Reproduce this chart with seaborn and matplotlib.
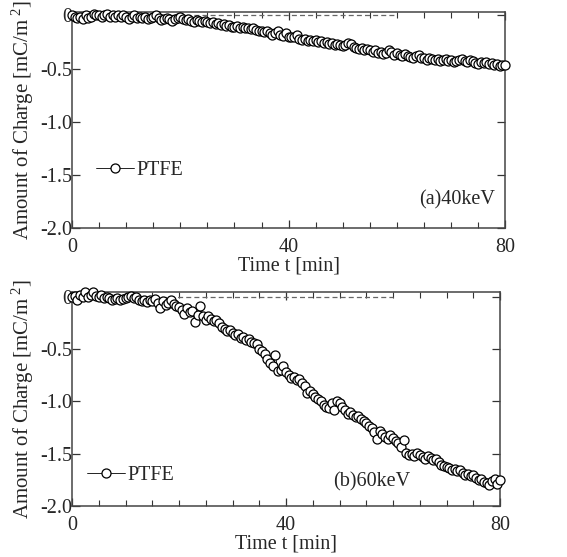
import numpy as np
import pandas as pd
import matplotlib
matplotlib.use("Agg")
import matplotlib.pyplot as plt
import seaborn as sns
from matplotlib.ticker import MultipleLocator, FuncFormatter

# measurement times [min], one point every 0.5 min
time_min = [
    0.0, 0.5, 1.0, 1.5, 2.0, 2.5, 3.0, 3.5, 4.0, 4.5,
    5.0, 5.5, 6.0, 6.5, 7.0, 7.5, 8.0, 8.5, 9.0, 9.5,
    10.0, 10.5, 11.0, 11.5, 12.0, 12.5, 13.0, 13.5, 14.0, 14.5,
    15.0, 15.5, 16.0, 16.5, 17.0, 17.5, 18.0, 18.5, 19.0, 19.5,
    20.0, 20.5, 21.0, 21.5, 22.0, 22.5, 23.0, 23.5, 24.0, 24.5,
    25.0, 25.5, 26.0, 26.5, 27.0, 27.5, 28.0, 28.5, 29.0, 29.5,
    30.0, 30.5, 31.0, 31.5, 32.0, 32.5, 33.0, 33.5, 34.0, 34.5,
    35.0, 35.5, 36.0, 36.5, 37.0, 37.5, 38.0, 38.5, 39.0, 39.5,
    40.0, 40.5, 41.0, 41.5, 42.0, 42.5, 43.0, 43.5, 44.0, 44.5,
    45.0, 45.5, 46.0, 46.5, 47.0, 47.5, 48.0, 48.5, 49.0, 49.5,
    50.0, 50.5, 51.0, 51.5, 52.0, 52.5, 53.0, 53.5, 54.0, 54.5,
    55.0, 55.5, 56.0, 56.5, 57.0, 57.5, 58.0, 58.5, 59.0, 59.5,
    60.0, 60.5, 61.0, 61.5, 62.0, 62.5, 63.0, 63.5, 64.0, 64.5,
    65.0, 65.5, 66.0, 66.5, 67.0, 67.5, 68.0, 68.5, 69.0, 69.5,
    70.0, 70.5, 71.0, 71.5, 72.0, 72.5, 73.0, 73.5, 74.0, 74.5,
    75.0, 75.5, 76.0, 76.5, 77.0, 77.5, 78.0, 78.5, 79.0, 79.5,
    80.0,
]

# (a) 40 keV, PTFE charge [mC/m^2]
charge_40kev = [
    0.00, -0.01, -0.02, -0.01, -0.03, 0.00, -0.02, -0.01, 0.01, 0.00,
    0.00, -0.01, 0.00, 0.01, -0.01, 0.00, -0.01, 0.00, -0.01, 0.00,
    -0.01, -0.03, -0.01, 0.00, -0.02, -0.01, -0.02, -0.01, -0.03, -0.02,
    -0.01, 0.00, -0.02, -0.04, -0.03, -0.02, -0.03, -0.05, -0.03, -0.02,
    -0.01, -0.03, -0.04, -0.03, -0.05, -0.06, -0.04, -0.05, -0.06, -0.05,
    -0.06, -0.07, -0.06, -0.08, -0.07, -0.09, -0.08, -0.10, -0.09, -0.11,
    -0.11, -0.10, -0.12, -0.11, -0.12, -0.12, -0.13, -0.12, -0.14, -0.15,
    -0.15, -0.16, -0.15, -0.17, -0.18, -0.17, -0.15, -0.18, -0.19, -0.17,
    -0.20, -0.20, -0.20, -0.18, -0.22, -0.23, -0.22, -0.24, -0.23, -0.24,
    -0.23, -0.25, -0.24, -0.26, -0.25, -0.27, -0.26, -0.28, -0.27, -0.28,
    -0.29, -0.28, -0.26, -0.27, -0.30, -0.31, -0.32, -0.31, -0.33, -0.32,
    -0.33, -0.34, -0.33, -0.35, -0.34, -0.36, -0.35, -0.33, -0.34, -0.37,
    -0.35, -0.37, -0.38, -0.36, -0.38, -0.39, -0.40, -0.38, -0.37, -0.40,
    -0.40, -0.42, -0.40, -0.41, -0.42, -0.41, -0.43, -0.42, -0.41, -0.43,
    -0.42, -0.44, -0.43, -0.42, -0.41, -0.43, -0.44, -0.42, -0.43, -0.45,
    -0.46, -0.44, -0.45, -0.44, -0.46, -0.45, -0.47, -0.46, -0.48, -0.47,
    -0.47,
]

# (b) 60 keV, PTFE charge [mC/m^2]
charge_60kev = [
    0.00, 0.01, -0.03, 0.02, 0.00, 0.05, 0.00, 0.02, 0.05, 0.01,
    0.00, 0.02, -0.01, 0.00, -0.01, -0.03, -0.02, -0.01, -0.03, -0.02,
    -0.01, 0.00, 0.01, -0.01, 0.00, -0.03, -0.04, -0.03, -0.05, -0.03,
    -0.04, -0.02, -0.06, -0.11, -0.04, -0.08, -0.06, -0.03, -0.07, -0.09,
    -0.10, -0.13, -0.16, -0.11, -0.15, -0.14, -0.24, -0.17, -0.09, -0.18,
    -0.22, -0.18, -0.21, -0.23, -0.22, -0.25, -0.29, -0.31, -0.33, -0.32,
    -0.35, -0.37, -0.36, -0.39, -0.38, -0.41, -0.40, -0.43, -0.44, -0.45,
    -0.50, -0.52, -0.55, -0.59, -0.63, -0.66, -0.56, -0.71, -0.70, -0.66,
    -0.72, -0.75, -0.78, -0.77, -0.80, -0.79, -0.82, -0.85, -0.92, -0.90,
    -0.93, -0.96, -0.98, -1.00, -1.03, -1.05, -1.06, -1.02, -1.08, -1.00,
    -1.02, -1.05, -1.08, -1.12, -1.10, -1.13, -1.15, -1.14, -1.17, -1.19,
    -1.21, -1.24, -1.25, -1.29, -1.36, -1.28, -1.31, -1.34, -1.36, -1.32,
    -1.35, -1.38, -1.40, -1.44, -1.37, -1.49, -1.51, -1.50, -1.52, -1.49,
    -1.51, -1.53, -1.55, -1.52, -1.54, -1.56, -1.55, -1.58, -1.61, -1.62,
    -1.63, -1.64, -1.66, -1.65, -1.67, -1.66, -1.68, -1.70, -1.69, -1.71,
    -1.70, -1.73, -1.75, -1.74, -1.77, -1.78, -1.80, -1.76, -1.74, -1.79,
    -1.75,
]

panel_labels = ["(a)40keV", "(b)60keV"]
series_name = "PTFE"
ref_line_end = 60  # dashed zero line runs from 0 to 60 min

sns.set_theme(style="ticks")
plt.rcParams['font.family'] = ['Liberation Serif', 'DejaVu Serif']
plt.rcParams['mathtext.fontset'] = 'custom'
plt.rcParams['mathtext.rm'] = 'Liberation Serif'
plt.rcParams['mathtext.it'] = 'Liberation Serif:italic'

fig = plt.figure(figsize=(5.67, 5.57), dpi=100)
ax_a = fig.add_axes([0.127, 0.591, 0.764, 0.387])
ax_b = fig.add_axes([0.127, 0.0916, 0.755, 0.384])

panels = [
    (ax_a, charge_40kev, panel_labels[0], 0.03, (0.977, 0.13), (0.055, 0.268)),
    (ax_b, charge_60kev, panel_labels[1], 0.045, (0.79, 0.115), (0.035, 0.142)),
]

for ax, values, label, ytop, txt_pos, leg_pos in panels:
    df = pd.DataFrame({"t": time_min, "q": values})
    ax.plot([0, ref_line_end], [0, 0], ls=(0, (4, 2.5)), color='#666666', lw=0.9, zorder=1)
    sns.lineplot(data=df, x="t", y="q", ax=ax, color='black', linewidth=0.6,
                 marker='o', markersize=6.5, markerfacecolor='white',
                 markeredgecolor='black', markeredgewidth=0.9,
                 label=series_name, clip_on=False, zorder=3)
    ax.set_xlim(0, 80)
    ax.set_ylim(-2.0, ytop)
    ax.xaxis.set_major_locator(MultipleLocator(40))
    ax.xaxis.set_minor_locator(MultipleLocator(5))
    ax.yaxis.set_major_locator(MultipleLocator(0.5))
    ax.yaxis.set_major_formatter(FuncFormatter(lambda v, p: "0" if abs(v) < 1e-9 else f"{v:.1f}"))
    ax.tick_params(which='both', direction='in', top=True, right=True,
                   labelsize=14.5, color='#333333')
    ax.tick_params(which='major', length=6, width=0.9)
    ax.tick_params(which='minor', length=4, width=0.8)
    ax.tick_params(axis='y', pad=0)
    ax.tick_params(axis='x', pad=7)
    for s in ax.spines.values():
        s.set_color('#444444')
        s.set_linewidth(1.1)
    ax.set_xlabel("Time t [min]", fontsize=14.5, labelpad=0)
    ax.set_ylabel("Amount of Charge [mC/m$^{\\ 2}$]", fontsize=15, labelpad=3)
    ax.text(txt_pos[0], txt_pos[1], label, transform=ax.transAxes,
            ha='right', va='center', fontsize=14.5)
    leg = ax.legend(loc='center left', bbox_to_anchor=leg_pos, frameon=False,
                    fontsize=14.5, handlelength=1.9, handletextpad=0.1,
                    borderaxespad=0, borderpad=0)

fig.savefig("out.png", dpi=100)
